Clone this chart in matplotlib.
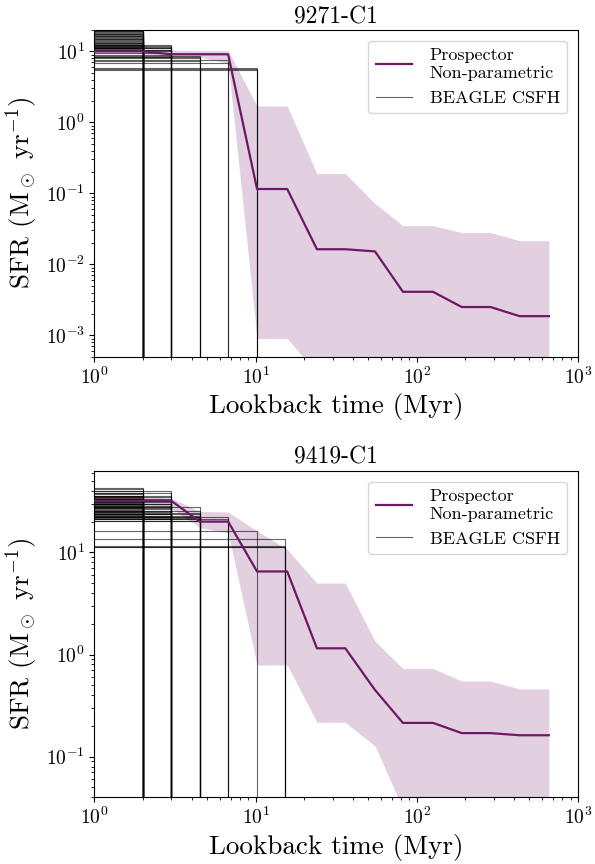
import matplotlib
matplotlib.use("Agg")
import matplotlib.pyplot as plt

plt.rcParams['font.family'] = ['cmr10', 'DejaVu Serif']
plt.rcParams['mathtext.fontset'] = 'cm'
plt.rcParams['axes.formatter.use_mathtext'] = True

# ---------------- data ----------------
titles = ["9271-C1", "9419-C1"]

# Prospector non-parametric SFH (lookback time in Myr)
pros_t = [1.0, 2.0, 3.0, 4.5, 6.75, 10.2, 15.7, 24.0, 36.0, 55.0, 82.0, 126.0, 190.0, 287.0, 434.0, 660.0]

med_1 = [10.0, 10.0, 9.1, 9.1, 9.1, 0.115, 0.115, 0.0163, 0.0163, 0.0152, 0.0041, 0.0041, 0.0025, 0.0025, 0.00186, 0.00186]
up_1 = [10.6, 10.6, 10.4, 10.2, 10.2, 1.7, 1.7, 0.19, 0.19, 0.072, 0.035, 0.035, 0.028, 0.028, 0.0215, 0.0215]
lo_1 = [9.4, 9.4, 8.5, 8.3, 6.8, 0.0009, 0.0009, 0.00029, 0.0001, 0.0001, 0.0001, 0.0001, 0.0001, 0.0001, 0.0001, 0.0001]

med_2 = [31.9, 31.9, 31.9, 20.0, 20.0, 6.5, 6.5, 1.15, 1.15, 0.45, 0.214, 0.214, 0.17, 0.17, 0.162, 0.162]
up_2 = [35.0, 35.0, 34.0, 25.2, 24.8, 16.2, 10.7, 5.0, 5.0, 1.35, 0.73, 0.73, 0.55, 0.55, 0.46, 0.46]
lo_2 = [29.0, 29.0, 27.0, 17.5, 15.5, 0.79, 0.79, 0.217, 0.217, 0.127, 0.031, 0.01, 0.01, 0.01, 0.01, 0.01]

# BEAGLE constant SFH posterior draws: age (Myr) -> SFR values
beagle_ages = [2.0, 3.0, 4.5, 6.75, 10.125, 15.19]

beagle_sfr_1 = [
    [10.8, 11.0, 11.2, 11.5, 11.8, 12.2, 12.4, 12.6, 12.9, 13.2, 13.5, 13.9, 14.3, 14.7, 15.1,
     15.5, 16.0, 16.4, 16.7, 17.1, 17.4, 17.8, 18.2, 18.7, 19.2, 19.6, 21.0, 24.0],
    [8.4, 9.0, 9.5, 10.0, 10.3, 10.5, 11.0, 11.3, 11.6, 12.0, 12.2],
    [7.3, 8.0, 8.4, 8.7],
    [6.9, 7.6],
    [5.5, 5.7, 5.9],
    [],
]

beagle_sfr_2 = [
    [22.0, 23.0, 24.0, 25.0, 25.5, 26.0, 27.0, 27.5, 28.0, 28.5, 29.0, 29.5, 30.0, 30.5, 31.0,
     31.5, 32.0, 32.5, 33.0, 33.5, 34.0, 35.0, 35.5, 36.0, 37.0, 38.0, 40.0, 42.0, 43.0],
    [21.0, 22.0, 22.5, 23.5, 24.0, 25.0, 25.5, 26.5, 27.0, 28.0, 28.5, 29.5, 30.0, 31.0, 31.5,
     33.0, 34.5, 36.0, 38.0, 39.5],
    [20.5, 21.0, 21.5, 22.0, 22.5, 23.5, 24.5, 25.5, 27.5],
    [20.2, 21.0, 22.0],
    [16.2],
    [13.6, 11.6, 11.4, 11.2],
]

ylims = [(5e-4, 20.0), (0.04, 63.0)]

purple = "#6e1865"

fig = plt.figure(figsize=(5.95, 8.64), dpi=100)
ax1 = fig.add_axes([0.1588, 0.5872, 0.8126, 0.3781])
ax2 = fig.add_axes([0.1588, 0.0772, 0.8126, 0.3780])

panels = [
    (ax1, med_1, up_1, lo_1, beagle_sfr_1),
    (ax2, med_2, up_2, lo_2, beagle_sfr_2),
]

for i, (ax, med, up, lo, bsfr) in enumerate(panels):
    ax.set_xscale("log")
    ax.set_yscale("log")
    ax.fill_between(pros_t, lo, up, color=purple, alpha=0.2, lw=0, zorder=1)
    first = True
    for age, vals in zip(beagle_ages, bsfr):
        for v in vals:
            ax.plot([0.1, age, age], [v, v, 1e-8], color="k", alpha=0.6, lw=0.8,
                    zorder=2, label="BEAGLE CSFH" if first else None)
            first = False
    ax.plot(pros_t, med, color=purple, lw=1.6, zorder=3,
            label="Prospector\nNon-parametric")
    ax.set_xlim(1, 1000)
    ax.set_ylim(*ylims[i])
    ax.set_title(titles[i], fontsize=17, pad=5)
    ax.set_xlabel("Lookback time (Myr)", fontsize=19.5)
    ax.set_ylabel(r"SFR (M$_\odot$ yr$^{-1}$)", fontsize=19.5)
    ax.tick_params(labelsize=14)
    h, l = ax.get_legend_handles_labels()
    ax.legend([h[1], h[0]], [l[1], l[0]], loc="upper right", fontsize=13,
              handletextpad=1.0, borderaxespad=0.6)

fig.savefig("out.png", dpi=100)
